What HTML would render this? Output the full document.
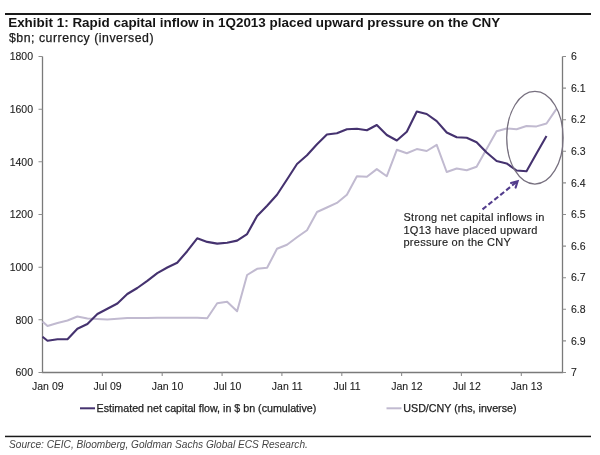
<!DOCTYPE html>
<html><head><meta charset="utf-8"><style>
html,body{margin:0;padding:0;background:#fff;}
svg{display:block;}
text{font-family:"Liberation Sans",Arial,sans-serif;}
.ax{font-size:10.5px;fill:#222;stroke:#222;stroke-width:0.1px;}
.leg{font-size:10.7px;fill:#1e1e1e;stroke:#1e1e1e;stroke-width:0.25px;}
.ann{font-size:11px;fill:#222;letter-spacing:0.25px;stroke:#222;stroke-width:0.15px;}
.title{font-size:13.45px;font-weight:bold;fill:#141414;}
.sub{font-size:12.3px;fill:#1a1a1a;letter-spacing:0.52px;stroke:#1a1a1a;stroke-width:0.25px;}
.src{font-size:10.15px;font-style:italic;fill:#444;}
</style></head><body>
<svg width="600" height="455" viewBox="0 0 600 455">
<path d="M42.5 56.5V372.5H562.5V56.5" fill="none" stroke="#7a7a7a" stroke-width="1.3"/>
<text x="33" y="60.2" text-anchor="end" class="ax">1800</text>
<text x="33" y="112.9" text-anchor="end" class="ax">1600</text>
<text x="33" y="165.5" text-anchor="end" class="ax">1400</text>
<text x="33" y="218.2" text-anchor="end" class="ax">1200</text>
<text x="33" y="270.9" text-anchor="end" class="ax">1000</text>
<text x="33" y="323.5" text-anchor="end" class="ax">800</text>
<text x="33" y="376.2" text-anchor="end" class="ax">600</text>
<text x="571" y="60.2" class="ax">6</text>
<text x="571" y="91.8" class="ax">6.1</text>
<text x="571" y="123.4" class="ax">6.2</text>
<text x="571" y="155.0" class="ax">6.3</text>
<text x="571" y="186.6" class="ax">6.4</text>
<text x="571" y="218.2" class="ax">6.5</text>
<text x="571" y="249.8" class="ax">6.6</text>
<text x="571" y="281.4" class="ax">6.7</text>
<text x="571" y="313.0" class="ax">6.8</text>
<text x="571" y="344.6" class="ax">6.9</text>
<text x="571" y="376.2" class="ax">7</text>
<text x="47.8" y="390" text-anchor="middle" class="ax">Jan 09</text>
<text x="107.6" y="390" text-anchor="middle" class="ax">Jul 09</text>
<text x="167.5" y="390" text-anchor="middle" class="ax">Jan 10</text>
<text x="227.4" y="390" text-anchor="middle" class="ax">Jul 10</text>
<text x="287.2" y="390" text-anchor="middle" class="ax">Jan 11</text>
<text x="347.1" y="390" text-anchor="middle" class="ax">Jul 11</text>
<text x="406.9" y="390" text-anchor="middle" class="ax">Jan 12</text>
<text x="466.8" y="390" text-anchor="middle" class="ax">Jul 12</text>
<text x="526.6" y="390" text-anchor="middle" class="ax">Jan 13</text>
<path d="M38.5 56.5H42.5 M38.5 109.2H42.5 M38.5 161.8H42.5 M38.5 214.5H42.5 M38.5 267.2H42.5 M38.5 319.8H42.5 M38.5 372.5H42.5 M562.5 56.5H566.0 M562.5 88.1H566.0 M562.5 119.7H566.0 M562.5 151.3H566.0 M562.5 182.9H566.0 M562.5 214.5H566.0 M562.5 246.1H566.0 M562.5 277.7H566.0 M562.5 309.3H566.0 M562.5 340.9H566.0 M562.5 372.5H566.0 M102.3 372.5V376.0 M162.2 372.5V376.0 M222.1 372.5V376.0 M281.9 372.5V376.0 M341.8 372.5V376.0 M401.6 372.5V376.0 M461.4 372.5V376.0 M521.3 372.5V376.0" stroke="#8e8e8e" stroke-width="1.1" fill="none"/>
<polyline points="42.5,321.5 47.5,326 57.5,323 67.5,320.5 77.4,316.5 87.4,318.5 97.4,319 107.4,319.4 117.4,318.8 127.3,318 137.3,318 147.3,318 157.3,317.8 167.3,317.7 177.2,317.7 187.2,317.7 197.2,317.7 207.2,318.3 217.2,303.3 227.1,301.7 237.1,311.3 247.1,275 257.1,268.8 267.1,267.8 277.0,248.8 287.0,244.7 297.0,237.3 307.0,230.2 317.0,212 326.9,207.5 336.9,202.9 346.9,194.7 356.9,176.2 366.9,176.8 376.8,169.1 386.8,176.2 396.8,149.8 406.8,153.2 416.8,149.1 426.7,151 436.7,144.8 446.7,172 456.7,168.5 466.7,170.3 476.6,166.8 486.6,149 496.6,131.3 506.6,128.5 516.6,129.2 526.5,126 536.5,126.4 546.5,123.5 556.5,108.9" fill="none" stroke="#c1bad0" stroke-width="2" stroke-linejoin="round"/>
<polyline points="42.5,336.7 47.5,340.7 57.5,339.3 67.5,339.3 77.4,328.7 87.4,324 97.4,314 107.4,308.7 117.4,303.5 127.3,294 137.3,288 147.3,280.8 157.3,273.1 167.3,267.5 177.2,262.8 187.2,251.2 197.2,238.3 207.2,241.9 217.2,243.6 227.1,242.7 237.1,240.6 247.1,234.1 257.1,216 267.1,205.8 277.0,194.8 287.0,179.5 297.0,164 307.0,155.3 317.0,144.3 326.9,134.5 336.9,133.3 346.9,129.2 356.9,128.7 366.9,130.3 376.8,125 386.8,135 396.8,140.5 406.8,131.7 416.8,111.5 426.7,114 436.7,121.1 446.7,132.5 456.7,137.3 466.7,137.8 476.6,142.2 486.6,152.5 496.6,161 506.6,163.4 516.6,170.5 526.5,171.2 536.5,153.6 546.5,136.1" fill="none" stroke="#45326f" stroke-width="2.1" stroke-linejoin="round"/>
<ellipse cx="534.9" cy="137.7" rx="28.2" ry="46.3" fill="none" stroke="#77707f" stroke-width="1.25"/>
<path d="M482.5 209.4L516.5 182" stroke="#523c8c" stroke-width="2.1" stroke-dasharray="5 2.6" fill="none"/>
<path d="M511 183L517.6 181.2L515.6 187.6" stroke="#523c8c" stroke-width="2.1" fill="none" stroke-linejoin="miter" stroke-linecap="round"/>
<text class="ann"><tspan x="403.5" y="221">Strong net capital inflows in</tspan><tspan x="403.5" y="233.6">1Q13 have placed upward</tspan><tspan x="403.5" y="246.1">pressure on the CNY</tspan></text>
<path d="M80 408.3H95" stroke="#45326f" stroke-width="2"/>
<text x="96.5" y="411.7" class="leg">Estimated net capital flow, in $ bn (cumulative)</text>
<path d="M386.5 408.3H401.5" stroke="#c1bad0" stroke-width="2"/>
<text x="403.3" y="411.7" class="leg">USD/CNY (rhs, inverse)</text>
<rect x="5" y="13" width="586" height="2" fill="#1a1a1a"/>
<rect x="5" y="435.7" width="586" height="1.5" fill="#1a1a1a"/>
<text x="8.2" y="27.3" class="title">Exhibit 1: Rapid capital inflow in 1Q2013 placed upward pressure on the CNY</text>
<text x="9" y="41.5" class="sub">$bn; currency (inversed)</text>
<text x="9" y="448" class="src">Source: CEIC, Bloomberg, Goldman Sachs Global ECS Research.</text>
</svg>
</body></html>
